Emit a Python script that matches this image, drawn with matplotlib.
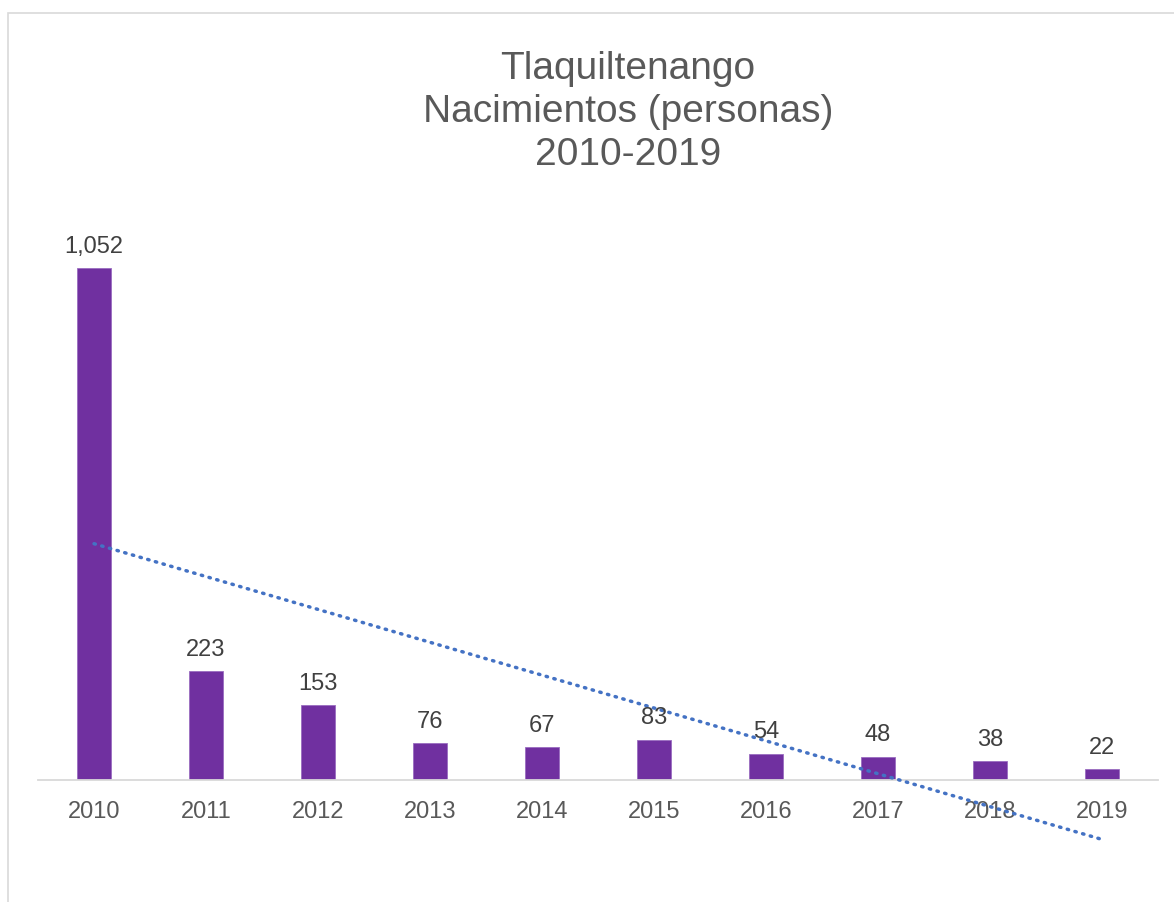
import numpy as np
import matplotlib.pyplot as plt
from matplotlib.patches import Rectangle

plt.rcParams['font.family'] = ['Liberation Sans', 'DejaVu Sans']

# Data
years = ['2010', '2011', '2012', '2013', '2014', '2015', '2016', '2017', '2018', '2019']
births = [1052, 223, 153, 76, 67, 83, 54, 48, 38, 22]
labels = ['1,052', '223', '153', '76', '67', '83', '54', '48', '38', '22']

fig = plt.figure(figsize=(11.74, 9.02), dpi=100)
ax = fig.add_axes([0.0324, 0.1353, 0.954, 0.6475])

x = np.arange(len(years))
ax.bar(x, births, width=0.31, color='#7030A0', edgecolor='#9a6cc0', linewidth=0.6, zorder=2)

# linear trendline (least squares, like Excel)
slope, intercept = np.polyfit(x, births, 1)
ax.plot(x, slope * x + intercept, color='#4472C4', lw=2.5, dashes=(0.4, 1.9),
        dash_capstyle='round', clip_on=False, zorder=3)

for xi, v, lab in zip(x, births, labels):
    ax.annotate(lab, (xi, v), xytext=(0, 11), textcoords='offset points',
                ha='center', va='baseline', fontsize=17, color='#404040')

ax.set_xlim(-0.5, len(years) - 0.5)
ax.set_ylim(0, 1200)
ax.set_xticks(x)
ax.set_xticklabels(years, fontsize=17, color='#595959')
ax.tick_params(axis='x', length=0, pad=15)
ax.set_yticks([])
for s in ['top', 'left', 'right']:
    ax.spines[s].set_visible(False)
ax.spines['bottom'].set_color('#D9D9D9')
ax.spines['bottom'].set_linewidth(1.3)

fig.text(0.535, 0.943, 'Tlaquiltenango\nNacimientos (personas)\n2010-2019',
         ha='center', va='top', fontsize=28, color='#595959', linespacing=1.24)

# chart area border (runs off the right and bottom of the image)
fig.patches.append(Rectangle((8 / 1174, -0.1), 2, 1 - 13 / 902 + 0.1,
                             transform=fig.transFigure, fill=False,
                             ec='#D9D9D9', lw=1.2))

fig.savefig('out.png', dpi=100)
